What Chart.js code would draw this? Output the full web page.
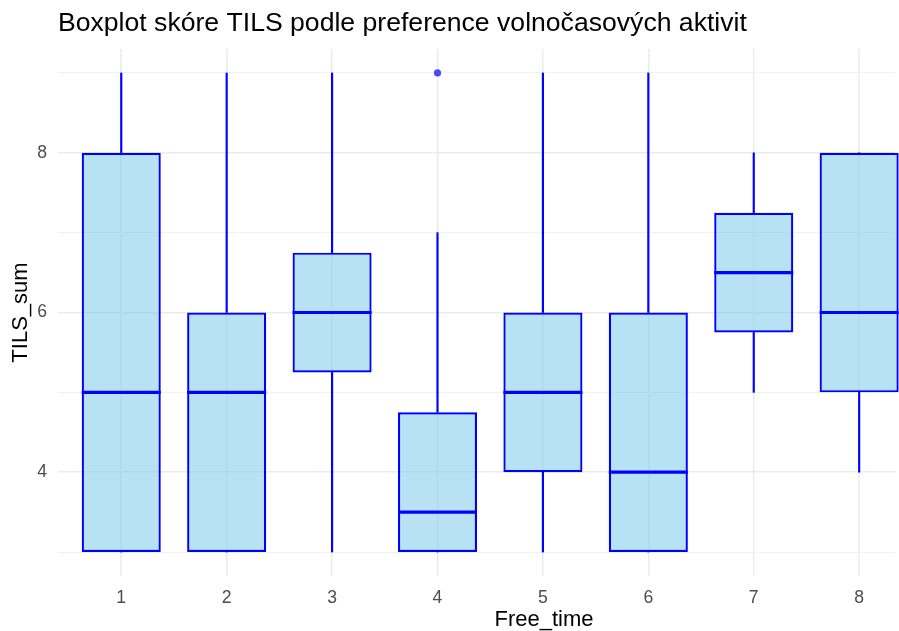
<!DOCTYPE html>
<html>
<head>
<meta charset="utf-8">
<script src="https://cdn.jsdelivr.net/npm/chart.js@4"></script>
<style>
  body { margin: 0; background: #fff; }
  #wrap { width: 899px; height: 631px; }
</style>
</head>
<body>
<div id="wrap"><canvas id="myChart"></canvas></div>
<script>
// boxplot data
let categories = [1, 2, 3, 4, 5, 6, 7, 8];
let whiskerLow = [3, 3, 3, 3, 3, 3, 5, 4];
let q1Values = [3, 3, 5.25, 3, 4, 3, 5.75, 5];
let medianValues = [5, 5, 6, 3.5, 5, 4, 6.5, 6];
let q3Values = [8, 6, 6.75, 4.75, 6, 6, 7.25, 8];
let whiskerHigh = [9, 9, 9, 7, 9, 9, 8, 8];
let outlierX = [4];
let outlierY = [9];
let yTicks = [3, 4, 5, 6, 7, 8, 9];

let fontFamily = "'Liberation Sans', Arial, sans-serif";
let blue = "#0000FF";

// chart datasets
let boxData = categories.map((c, i) => ({ x: c, y: [q1Values[i], q3Values[i]] }));
let lowData = categories.map((c, i) => ({ x: c, y: [whiskerLow[i], q1Values[i]] }));
let highData = categories.map((c, i) => ({ x: c, y: [q3Values[i], whiskerHigh[i]] }));
let outlierData = outlierX.map((x, i) => ({ x: x, y: outlierY[i] }));

// median lines + x axis title
let boxExtras = {
    id: "boxExtras",
    afterDatasetsDraw(chart) {
        let ctx = chart.ctx;
        let xs = chart.scales.x;
        let ys = chart.scales.y;
        let boxes = chart.getDatasetMeta(2).data;
        ctx.save();
        ctx.strokeStyle = blue;
        ctx.lineWidth = 3.2;
        for (let i = 0; i < categories.length; i++) {
            let cx = xs.getPixelForValue(categories[i]);
            let half = boxes[i].width / 2;
            let y = ys.getPixelForValue(medianValues[i]);
            ctx.beginPath();
            ctx.moveTo(cx - half, y);
            ctx.lineTo(cx + half, y);
            ctx.stroke();
        }
        ctx.restore();
    },
    afterDraw(chart) {
        let ctx = chart.ctx;
        let xs = chart.scales.x;
        ctx.save();
        ctx.font = "22px " + fontFamily;
        ctx.fillStyle = "#000";
        ctx.textAlign = "center";
        ctx.textBaseline = "middle";
        ctx.fillText("Free_time", xs.getPixelForValue(5.01), 620);
        ctx.restore();
    }
};

let myChart = document.getElementById("myChart").getContext("2d");

let boxChart = new Chart(myChart, {
    type: "bar",
    data: {
        datasets: [
            {
                type: "scatter",
                data: outlierData,
                backgroundColor: "rgba(0,0,255,0.7)",
                borderWidth: 0,
                pointRadius: 3.6,
                order: 0
            },
            {
                data: lowData,
                backgroundColor: blue,
                borderWidth: 0,
                barThickness: 1.5,
                grouped: false,
                order: 2
            },
            {
                data: boxData,
                backgroundColor: "rgba(135,206,235,0.6)",
                borderColor: blue,
                borderWidth: 2.2,
                borderSkipped: false,
                barPercentage: 0.75,
                categoryPercentage: 1,
                grouped: false,
                clip: false,
                order: 1
            },
            {
                data: highData,
                backgroundColor: blue,
                borderWidth: 0,
                barThickness: 1.5,
                grouped: false,
                order: 2
            }
        ]
    },
    options: {
        responsive: true,
        maintainAspectRatio: false,
        animation: false,
        layout: { padding: 0 },
        plugins: {
            legend: { display: false },
            tooltip: { enabled: false },
            title: {
                display: true,
                text: "Boxplot skóre TILS podle preference volnočasových aktivit",
                align: "start",
                fullSize: false,
                color: "#000",
                font: { family: fontFamily, size: 26.6, weight: "normal" },
                padding: { top: 8, bottom: 9.1 }
            }
        },
        scales: {
            x: {
                type: "linear",
                offset: false,
                min: 0.4,
                max: 8.34,
                afterBuildTicks: (scale) => { scale.ticks = categories.map(v => ({ value: v })); },
                afterFit: (scale) => { scale.height = 55; },
                ticks: {
                    color: "#4D4D4D",
                    font: { family: fontFamily, size: 17.6 },
                    padding: 12,
                    autoSkip: false,
                    maxRotation: 0
                },
                grid: { color: "#EBEBEB", lineWidth: 1.5, drawTicks: false, offset: false },
                border: { display: false }
            },
            y: {
                min: 2.7,
                max: 9.3,
                afterBuildTicks: (scale) => { scale.ticks = yTicks.map(v => ({ value: v })); },
                afterFit: (scale) => { scale.width = 58; },
                ticks: {
                    color: "#4D4D4D",
                    font: { family: fontFamily, size: 17.6 },
                    padding: 11,
                    callback: (v) => (v % 2 === 0 ? v : "")
                },
                grid: {
                    color: (c) => (c.tick && c.tick.value % 2 === 0 ? "#EBEBEB" : "#F1F1F1"),
                    lineWidth: (c) => (c.tick && c.tick.value % 2 === 0 ? 1.5 : 1),
                    drawTicks: false
                },
                border: { display: false },
                title: {
                    display: true,
                    text: "TILS_sum",
                    color: "#000",
                    font: { family: fontFamily, size: 22 },
                    padding: { top: 8, bottom: 0 }
                }
            }
        }
    },
    plugins: [boxExtras]
});
</script>
</body>
</html>
